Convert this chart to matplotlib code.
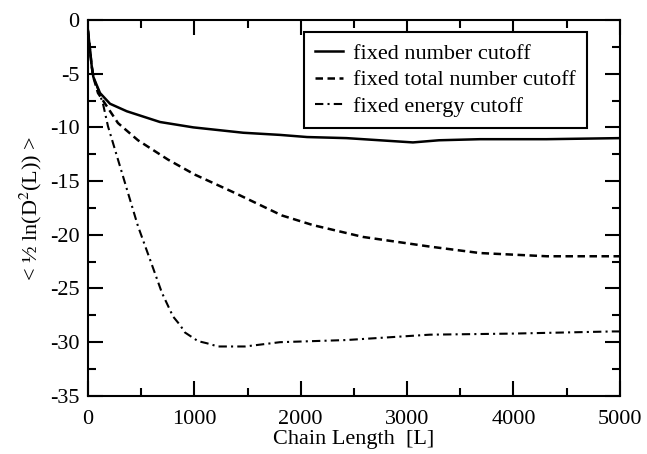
import matplotlib
matplotlib.use("Agg")
import matplotlib.pyplot as plt
from matplotlib.ticker import MultipleLocator

plt.rcParams['font.family'] = ['Liberation Serif', 'DejaVu Serif']
plt.rcParams['mathtext.fontset'] = 'stix'
plt.rcParams['axes.unicode_minus'] = False

# values
L_num = [0, 35, 50, 113, 207, 365, 677, 990, 1460, 1805, 2060, 2430, 3055, 3300, 3685, 4310, 5000]
y_num = [-1.0, -4.3, -5.3, -6.8, -7.8, -8.5, -9.5, -10.0, -10.5, -10.7, -10.9, -11.0, -11.4, -11.2, -11.1, -11.1, -11.0]

L_tot = [0, 35, 50, 94, 282, 470, 752, 1005, 1380, 1823, 2115, 2585, 3214, 3684, 4314, 5000]
y_tot = [-1.0, -4.3, -5.3, -6.8, -9.6, -11.2, -13.0, -14.4, -16.1, -18.2, -19.1, -20.2, -21.1, -21.7, -22.0, -22.0]

L_en = [0, 35, 50, 100, 141, 188, 282, 376, 470, 583, 695, 799, 865, 912, 1034, 1118, 1222, 1400, 1476,
        1805, 2430, 3214, 3994, 4934, 5000]
y_en = [-1.0, -4.3, -5.3, -6.6, -7.8, -9.9, -13.0, -16.1, -19.2, -22.3, -25.4, -27.6, -28.4, -29.1, -29.9,
        -30.1, -30.4, -30.4, -30.4, -30.0, -29.8, -29.3, -29.2, -29.0, -29.0]

labels = ["fixed number cutoff", "fixed total number cutoff", "fixed energy cutoff"]

fig = plt.figure(figsize=(6.47, 4.54), dpi=100)
ax = fig.add_axes([0.136, 0.128, 0.822, 0.828])

ax.plot(L_num, y_num, color='black', lw=1.8, ls='-', label=labels[0])
ax.plot(L_tot, y_tot, color='black', lw=1.8, ls=(0, (3, 1.8)), label=labels[1])
ax.plot(L_en, y_en, color='black', lw=1.5, ls=(0, (4, 2, 1, 2)), label=labels[2])

ax.set_xlim(0, 5000)
ax.set_ylim(-35, 0)
ax.xaxis.set_major_locator(MultipleLocator(1000))
ax.xaxis.set_minor_locator(MultipleLocator(500))
ax.yaxis.set_major_locator(MultipleLocator(5))
ax.yaxis.set_minor_locator(MultipleLocator(2.5))
ax.tick_params(which='both', direction='in', top=True, right=True, width=1.5, labelsize=16, colors='black')
ax.tick_params(which='major', length=11, pad=6)
ax.tick_params(which='minor', length=6)
ax.tick_params(axis='x', which='major', pad=10)
for s in ax.spines.values():
    s.set_linewidth(1.5)

ax.set_xlabel("Chain Length  [L]", fontsize=16, labelpad=1)
ax.set_ylabel(r"< ½ ln(D$^2$(L)) >", fontsize=16, labelpad=4)

leg = ax.legend(loc='upper right', bbox_to_anchor=(0.9375, 0.968), fontsize=16, frameon=True, fancybox=False,
                edgecolor='black', framealpha=1, handlelength=1.25, handletextpad=0.45, borderpad=0.5,
                labelspacing=0.28, borderaxespad=0)
leg.get_frame().set_linewidth(1.5)

fig.savefig("out.png", dpi=100)
